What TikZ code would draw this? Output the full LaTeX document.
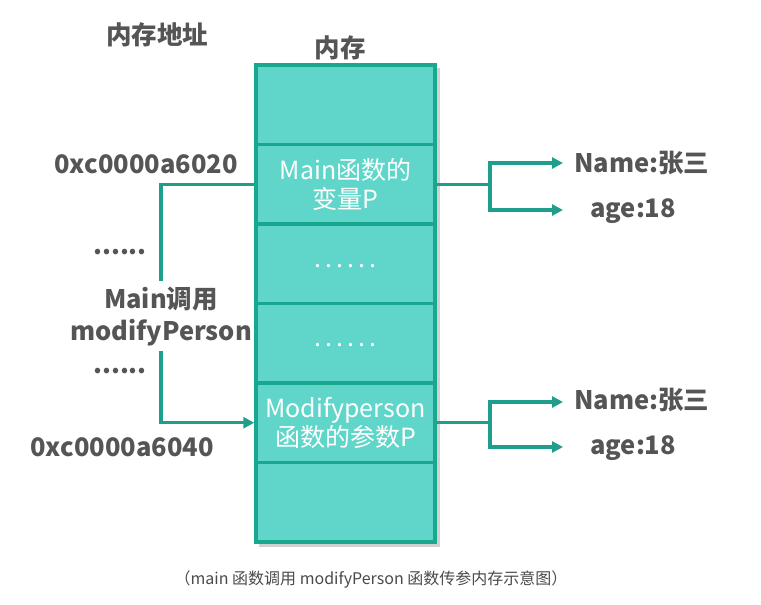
\documentclass[tikz,border=0pt]{standalone}
\usepackage{fontspec}
\setmainfont{Noto Sans CJK SC}
\usetikzlibrary{arrows.meta,shadows}
\definecolor{cellfill}{HTML}{5FD6C9}
\definecolor{cellline}{HTML}{17A88E}
\definecolor{conncol}{HTML}{1F9E8E}
\definecolor{txtgray}{HTML}{555555}
\definecolor{capgray}{HTML}{4A4A4A}
\begin{document}
\begin{tikzpicture}[x=1pt,y=-1pt,
  cell/.style={draw=cellline,line width=3.5pt,fill=cellfill,minimum width=179pt,minimum height=79.5pt,inner sep=0pt,text=white,font=\fontsize{25}{29}\selectfont,align=center},
  lbl/.style={text=txtgray,font=\fontsize{25.5}{32}\selectfont\bfseries,inner sep=0pt,align=center},
  conn/.style={draw=conncol,line width=3.2pt},
  arr/.style={conn,-{Triangle[length=11pt,width=11pt]}}]
\useasboundingbox (0,0) rectangle (761,605);
% memory column shadow
\fill[black!40,opacity=0.45] (259,68) rectangle (440,547);
\node[cell] (c1) at (345.5,104.75) {};
\node[cell] (c2) at (345.5,184.25) {Main函数的\\变量P};
\node[cell] (c3) at (345.5,263.75) {\raisebox{-7pt}{.\,.\,.\,.\,.\,.}};
\node[cell] (c4) at (345.5,343.25) {\raisebox{-7pt}{.\,.\,.\,.\,.\,.}};
\node[cell] (c5) at (345.5,422.75) {Modifyperson\\函数的参数P};
\node[cell] (c6) at (345.5,502.25) {};
% labels
\node[lbl] (t1) at (157,35) {内存地址};
\node[lbl] (t2) at (340,48) {内存};
\node[lbl] (a1) at (146,164) {0xc0000a6020};
\node[lbl] (d1) at (120,252) {......};
\node[lbl] (call) at (161,317) {Main调用\\modifyPerson};
\node[lbl] (d2) at (120,371) {......};
\node[lbl] (a2) at (122,447) {0xc0000a6040};
% left connector
\coordinate (up) at (161,281);
\coordinate (dn) at (161,351);
\draw[conn] (c2.west) -| (up);
\draw[arr] (dn) |- (c5.west);
% right branches
\coordinate (b1) at (490,184.25);
\coordinate (b2) at (490,422.75);
\node[lbl,anchor=west] (n1) at (574,163) {Name:张三};
\node[lbl,anchor=west] (g1) at (590,211) {age:18};
\node[lbl,anchor=west] (n2) at (574,400) {Name:张三};
\node[lbl,anchor=west] (g2) at (590,448) {age:18};
\coordinate (e1) at (563,163);
\coordinate (e2) at (563,210);
\coordinate (e3) at (563,402);
\coordinate (e4) at (563,447);
\draw[conn] (c2.east) -- (b1);
\draw[arr] (b1) |- (e1);
\draw[arr] (b1) |- (e2);
\draw[conn] (c5.east) -- (b2);
\draw[arr] (b2) |- (e3);
\draw[arr] (b2) |- (e4);
% caption
\node[text=capgray,font=\fontsize{16}{19}\selectfont,inner sep=0pt] (cap) at (371,580) {（main 函数调用 modifyPerson 函数传参内存示意图）};
\end{tikzpicture}
\end{document}
